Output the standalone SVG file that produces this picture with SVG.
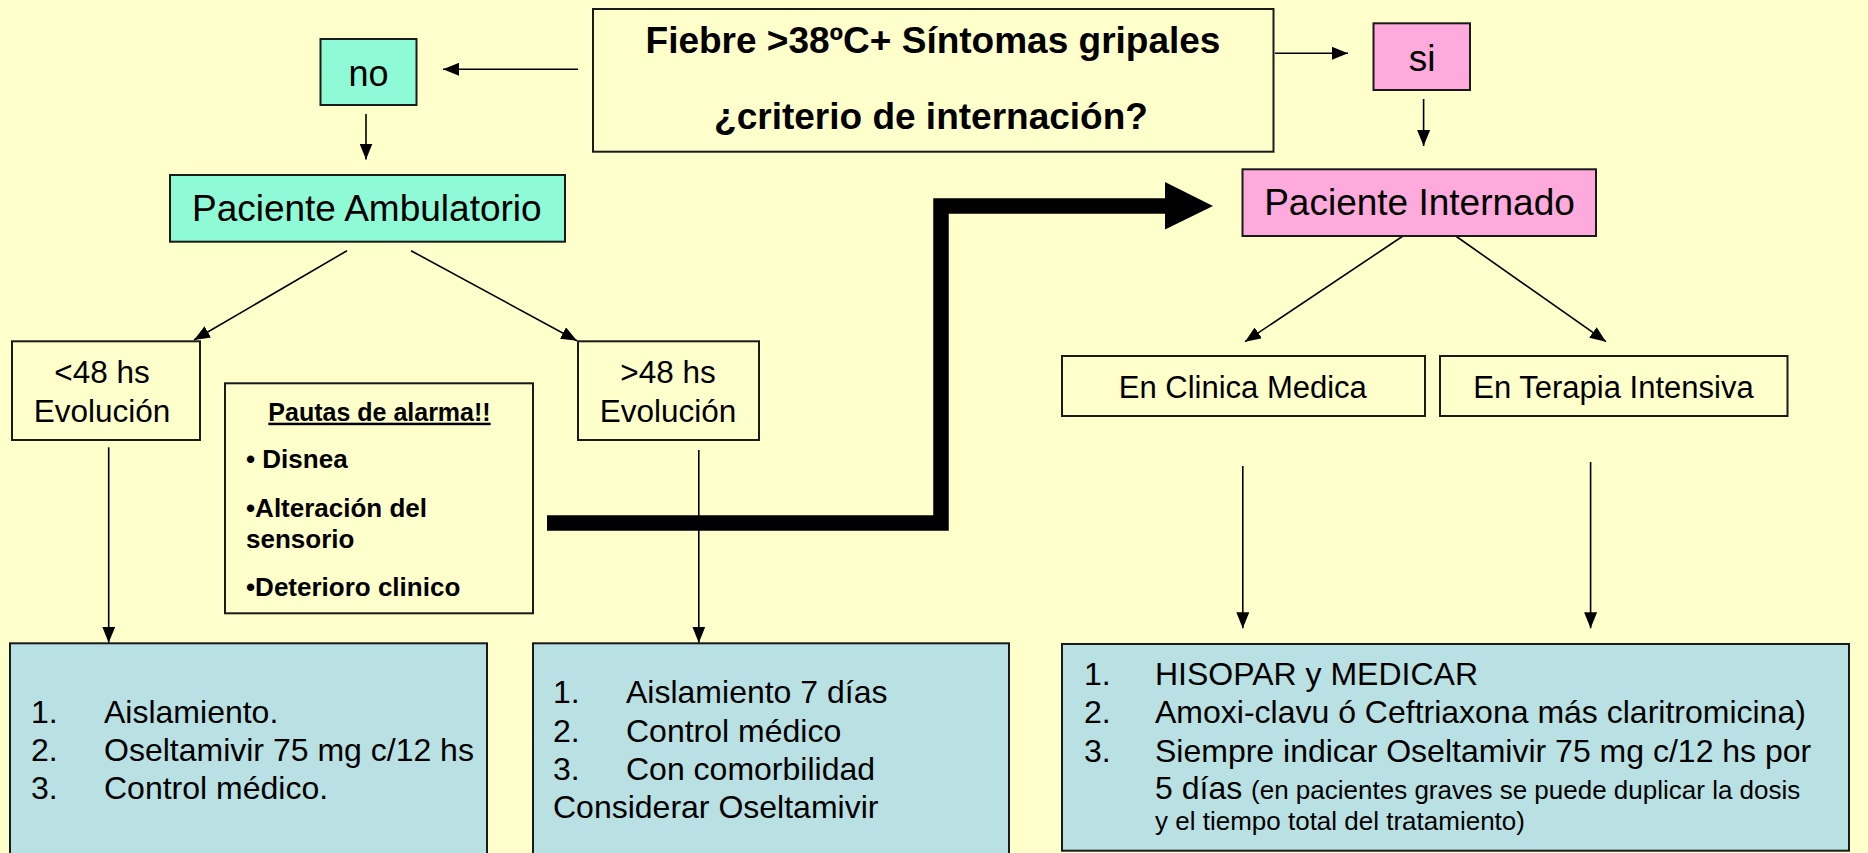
<svg xmlns="http://www.w3.org/2000/svg" width="1868" height="853" viewBox="0 0 1868 853">
<defs>
<style>
.bg{fill:#FFFFCC}
.box{fill:#FFFFCC;stroke:#1a1a1a;stroke-width:2}
.mint{fill:#8EFAD6;stroke:#1a1a1a;stroke-width:2}
.pink{fill:#FFAADC;stroke:#1a1a1a;stroke-width:2}
.blue{fill:#B9E0E2;stroke:#1a1a1a;stroke-width:2}
.t{font-family:"Liberation Sans",Arial,sans-serif;fill:#000}
.c{text-anchor:middle}
.b{font-weight:bold}
.conn line{stroke:#000;stroke-width:1.6;fill:none}
</style>
<marker id="ah" markerUnits="userSpaceOnUse" markerWidth="16" markerHeight="13" refX="16" refY="6.5" orient="auto">
<path d="M0,0 L16,6.5 L0,13 z" fill="#000"/>
</marker>
</defs>
<rect class="bg" x="0" y="0" width="1868" height="853"/>

<g id="connectors" class="conn">
<line x1="578" y1="69.3" x2="443" y2="69.3" marker-end="url(#ah)"/>
<line x1="1275" y1="53.3" x2="1348" y2="53.3" marker-end="url(#ah)"/>
<line x1="366" y1="114" x2="366" y2="159.5" marker-end="url(#ah)"/>
<line x1="1423.6" y1="99" x2="1423.6" y2="146" marker-end="url(#ah)"/>
<line x1="347" y1="250.7" x2="194" y2="340" marker-end="url(#ah)"/>
<line x1="411" y1="250.7" x2="577" y2="340.7" marker-end="url(#ah)"/>
<line x1="1403" y1="236" x2="1245" y2="341.7" marker-end="url(#ah)"/>
<line x1="1455.7" y1="236" x2="1606" y2="341.7" marker-end="url(#ah)"/>
<line x1="108.7" y1="447.3" x2="108.7" y2="642.7" marker-end="url(#ah)"/>
<line x1="698.8" y1="450" x2="698.8" y2="642.7" marker-end="url(#ah)"/>
<line x1="1242.8" y1="466" x2="1242.8" y2="628.3" marker-end="url(#ah)"/>
<line x1="1590.6" y1="462" x2="1590.6" y2="628.3" marker-end="url(#ah)"/>
<path d="M547,523 H941 V206 H1167" fill="none" stroke="#000" stroke-width="15.5" stroke-linejoin="miter"/>
<polygon points="1165,182 1213,206 1165,229.5" fill="#000"/>
</g>

<g id="main">
<rect class="box" x="593" y="9" width="680.5" height="142.7"/>
<text class="t c b" x="933" y="53.3" font-size="37">Fiebre &gt;38ºC+ Síntomas gripales</text>
<text class="t c b" x="931" y="129.3" font-size="37">¿criterio de internación?</text>
</g>

<g id="no">
<rect class="mint" x="320.5" y="39" width="96" height="66"/>
<text class="t c" x="368.5" y="85.5" font-size="36">no</text>
</g>

<g id="si">
<rect class="pink" x="1373.5" y="23.3" width="96.5" height="66.7"/>
<text class="t c" x="1422" y="70.7" font-size="37">si</text>
</g>

<g id="ambulatorio">
<rect class="mint" x="170" y="175" width="395" height="66.7"/>
<text class="t c" x="366.8" y="221" font-size="37">Paciente Ambulatorio</text>
</g>

<g id="internado">
<rect class="pink" x="1242.5" y="169.3" width="353.5" height="66.7"/>
<text class="t c" x="1419.5" y="215" font-size="37">Paciente Internado</text>
</g>

<g id="menos48">
<rect class="box" x="12" y="341.3" width="188" height="98.7"/>
<text class="t c" x="102" y="383.3" font-size="31.5">&lt;48 hs</text>
<text class="t c" x="102" y="421.7" font-size="31.5">Evolución</text>
</g>

<g id="mas48">
<rect class="box" x="578" y="341.3" width="181" height="98.7"/>
<text class="t c" x="668" y="383.3" font-size="31.5">&gt;48 hs</text>
<text class="t c" x="668" y="421.7" font-size="31.5">Evolución</text>
</g>

<g id="pautas">
<rect class="box" x="225" y="383.3" width="308" height="230"/>
<text class="t c b" x="379.5" y="420.7" font-size="25" text-decoration="underline">Pautas de alarma!!</text>
<text class="t b" x="246" y="468.3" font-size="26">• Disnea</text>
<text class="t b" x="246" y="517.3" font-size="26">•Alteración del</text>
<text class="t b" x="246" y="548.3" font-size="26">sensorio</text>
<text class="t b" x="246" y="595.7" font-size="26">•Deterioro clinico</text>
</g>

<g id="clinica">
<rect class="box" x="1062" y="356" width="363" height="60"/>
<text class="t c" x="1242.8" y="398.3" font-size="31">En Clinica Medica</text>
</g>

<g id="terapia">
<rect class="box" x="1440" y="356" width="347.5" height="60"/>
<text class="t c" x="1613.5" y="398.3" font-size="31">En Terapia Intensiva</text>
</g>

<g id="tratamiento-ambulatorio">
<rect class="blue" x="10" y="643.3" width="477" height="220"/>
<text class="t" x="31" y="722.7" font-size="32">1.</text>
<text class="t" x="104" y="722.7" font-size="32">Aislamiento.</text>
<text class="t" x="31" y="760.7" font-size="32">2.</text>
<text class="t" x="104" y="760.7" font-size="32">Oseltamivir 75 mg c/12 hs</text>
<text class="t" x="31" y="799" font-size="32">3.</text>
<text class="t" x="104" y="799" font-size="32">Control médico.</text>
</g>

<g id="tratamiento-48">
<rect class="blue" x="533" y="643.3" width="476" height="220"/>
<text class="t" x="553" y="702.7" font-size="32">1.</text>
<text class="t" x="626" y="702.7" font-size="32">Aislamiento 7 días</text>
<text class="t" x="553" y="741.7" font-size="32">2.</text>
<text class="t" x="626" y="741.7" font-size="32">Control médico</text>
<text class="t" x="553" y="780" font-size="32">3.</text>
<text class="t" x="626" y="780" font-size="32">Con comorbilidad</text>
<text class="t" x="553" y="817.7" font-size="32">Considerar Oseltamivir</text>
</g>

<g id="tratamiento-internado">
<rect class="blue" x="1062" y="644" width="787" height="206.7"/>
<text class="t" x="1084" y="685" font-size="32">1.</text>
<text class="t" x="1155" y="685" font-size="32">HISOPAR y MEDICAR</text>
<text class="t" x="1084" y="723.3" font-size="32">2.</text>
<text class="t" x="1155" y="723.3" font-size="32">Amoxi-clavu ó Ceftriaxona más claritromicina)</text>
<text class="t" x="1084" y="761.7" font-size="32">3.</text>
<text class="t" x="1155" y="761.7" font-size="32">Siempre indicar Oseltamivir 75 mg c/12 hs por</text>
<text class="t" x="1155" y="799.3" font-size="32">5 días <tspan font-size="26">(en pacientes graves se puede duplicar la dosis</tspan></text>
<text class="t" x="1155" y="830" font-size="26">y el tiempo total del tratamiento)</text>
</g>
</svg>
